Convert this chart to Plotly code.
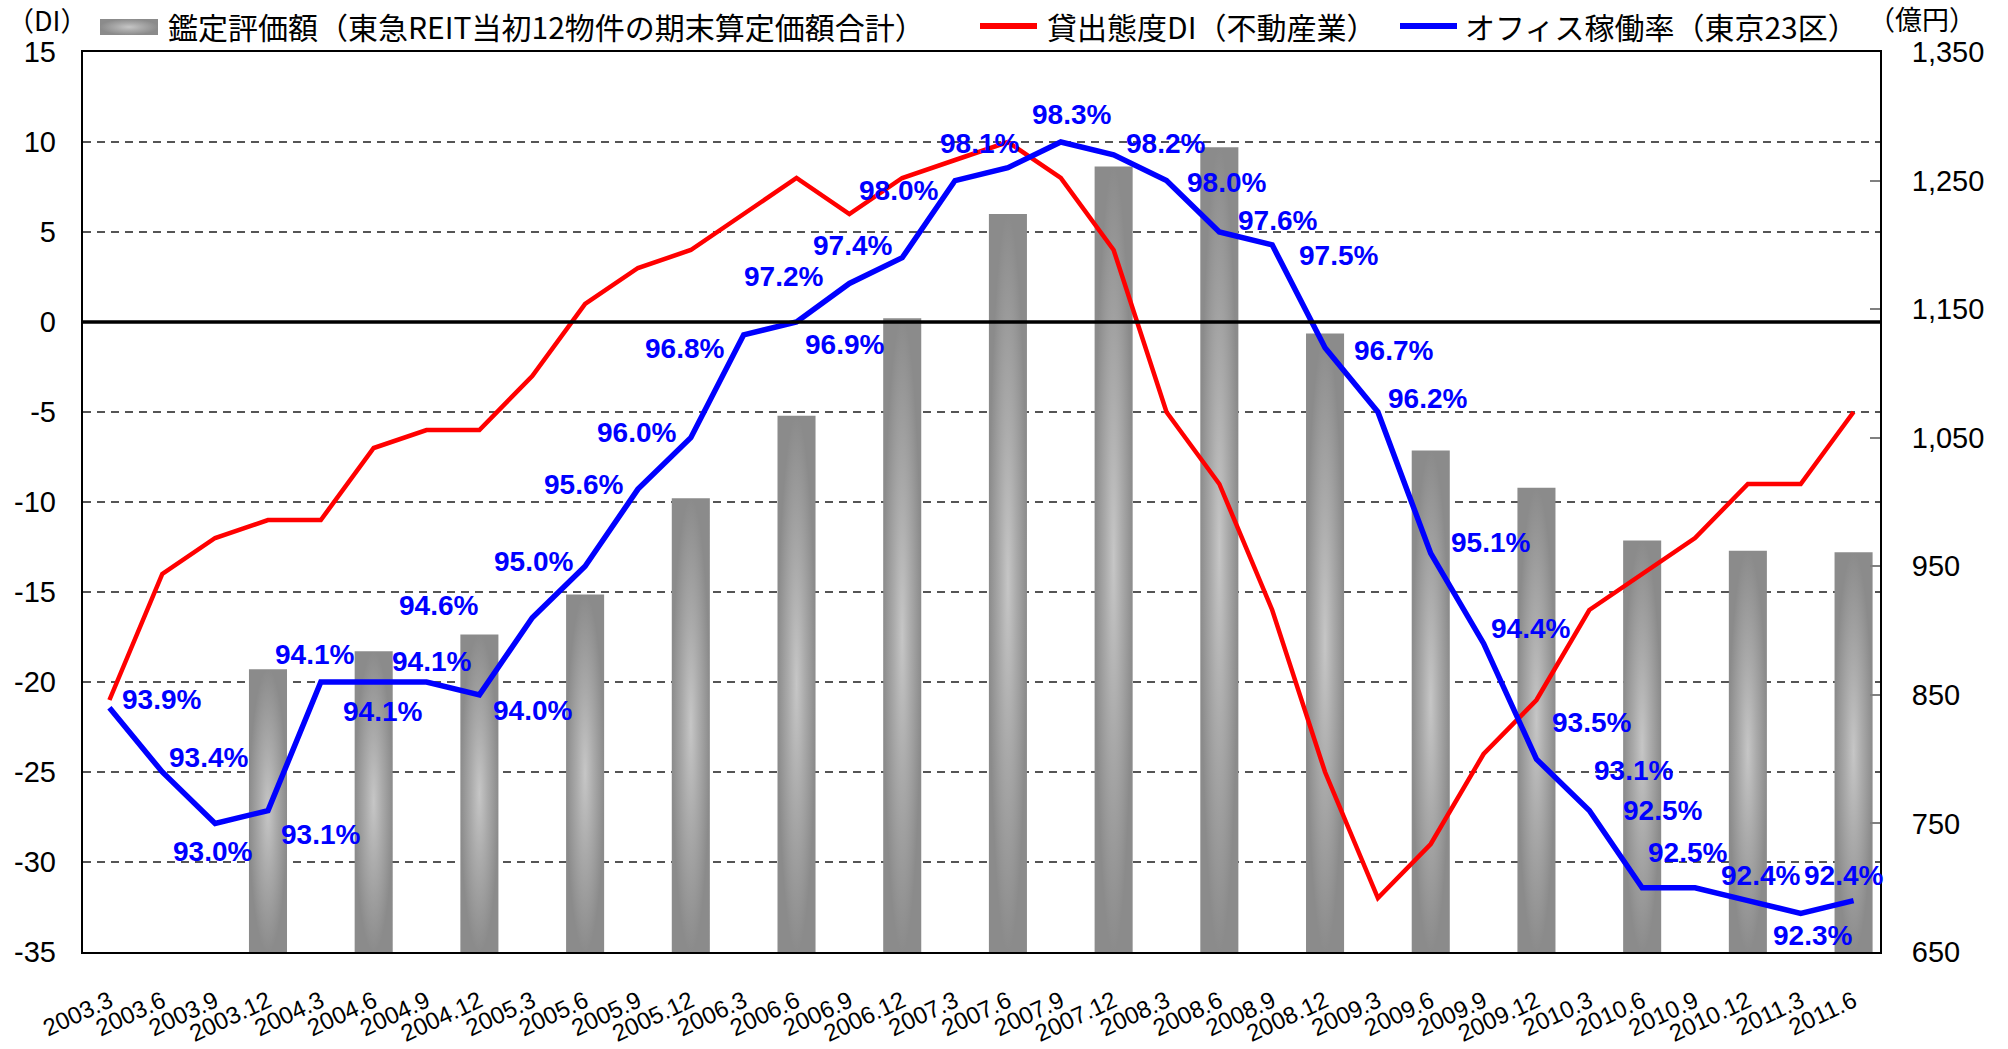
import base64
import plotly.graph_objects as go

# ---- data ---------------------------------------------------------------
quarters = [
    "2003.3", "2003.6", "2003.9", "2003.12", "2004.3", "2004.6", "2004.9", "2004.12",
    "2005.3", "2005.6", "2005.9", "2005.12", "2006.3", "2006.6", "2006.9", "2006.12",
    "2007.3", "2007.6", "2007.9", "2007.12", "2008.3", "2008.6", "2008.9", "2008.12",
    "2009.3", "2009.6", "2009.9", "2009.12", "2010.3", "2010.6", "2010.9", "2010.12",
    "2011.3", "2011.6",
]

# 貸出態度DI（不動産業）
lending_di = [
    -21, -14, -12, -11, -11, -7, -6, -6,
    -3, 1, 3, 4, 6, 8, 6, 8,
    9, 10, 8, 4, -5, -9, -16, -25,
    -32, -29, -24, -21, -16, -14, -12, -9,
    -9, -5,
]

# オフィス稼働率（東京23区）, %
occupancy = [
    93.9, 93.4, 93.0, 93.1, 94.1, 94.1, 94.1, 94.0,
    94.6, 95.0, 95.6, 96.0, 96.8, 96.9, 97.2, 97.4,
    98.0, 98.1, 98.3, 98.2, 98.0, 97.6, 97.5, 96.7,
    96.2, 95.1, 94.4, 93.5, 93.1, 92.5, 92.5, 92.4,
    92.3, 92.4,
]

# 鑑定評価額（億円）, semi-annual
appraisal_periods = [
    "2003.12", "2004.6", "2004.12", "2005.6", "2005.12", "2006.6", "2006.12", "2007.6",
    "2007.12", "2008.6", "2008.12", "2009.6", "2009.12", "2010.6", "2010.12", "2011.6",
]
appraisal_value = [
    870, 884, 897, 928, 1003, 1067, 1143, 1224,
    1261, 1276, 1131, 1040, 1011, 970, 962, 961,
]

di_ticks = list(range(-35, 16, 5))
value_ticks = list(range(650, 1351, 100))

# ---- layout constants -----------------------------------------------------
W, H = 2008, 1049
ML, MR, MT, MB = 83, 128, 52, 97
PW, PH = W - ML - MR, H - MT - MB
BAR_HALF = 0.36

JP_FONT = "Noto Sans CJK JP, Noto Sans CJK SC, sans-serif"
NUM_FONT = "Liberation Sans, Arial, sans-serif"
RED = "#ff0000"
BLUE = "#0000ff"

# pixel offsets (right, down) of each occupancy label from its point
label_offsets = [
    (52, -8), (46, -15), (-3, 28), (53, 24), (-6, -28), (9, 29), (5, -21), (53, 16),
    (-94, -12), (-52, -5), (-54, -5), (-54, -5), (-59, 14), (48, 22), (-66, -7), (-50, -12),
    (-57, 10), (-28, -24), (11, -28), (52, -11), (60, 2), (58, -12), (66, 11), (68, 3),
    (50, -14), (60, -11), (47, -15), (55, -37), (44, -40), (20, -77), (-8, -35), (13, -25),
    (12, 22), (-10, -25),
]


def paper_x(px):
    return (px - ML) / PW


def paper_y(py):
    return (H - MB - py) / PH


BAR_SCALE = [[0.0, "#c6c6c6"], [0.45, "#aaaaaa"], [1.0, "#8b8b8b"]]

fig = go.Figure()

# appraisal bars (cylinder-like shading) on the right-hand axis
for period, value in zip(appraisal_periods, appraisal_value):
    i = quarters.index(period)
    fig.add_trace(go.Scatter(
        x=[i - BAR_HALF, i + BAR_HALF, i + BAR_HALF, i - BAR_HALF, i - BAR_HALF],
        y=[value_ticks[0], value_ticks[0], value, value, value_ticks[0]],
        mode="lines", line=dict(width=0), fill="toself",
        fillgradient=dict(type="radial", colorscale=BAR_SCALE),
        hoverinfo="skip", showlegend=False, xaxis="x", yaxis="y",
    ))

x_idx = list(range(len(quarters)))

fig.add_trace(go.Scatter(
    x=x_idx, y=lending_di, mode="lines", yaxis="y2",
    line=dict(color=RED, width=4.5), showlegend=False,
    name="貸出態度DI（不動産業）",
))
fig.add_trace(go.Scatter(
    x=x_idx, y=occupancy, mode="lines", yaxis="y3",
    line=dict(color=BLUE, width=5.5), showlegend=False,
    name="オフィス稼働率（東京23区）",
))

annotations = []
for i, (v, (dx, dy)) in enumerate(zip(occupancy, label_offsets)):
    annotations.append(dict(
        x=i, y=v, xref="x", yref="y3", text=f"{v:.1f}%", showarrow=False,
        xshift=dx, yshift=-dy, xanchor="center", yanchor="middle",
        font=dict(family=NUM_FONT, size=28, color=BLUE, weight="bold"),
    ))

# legend row and unit captions
legend_y = 26
for txt, x0 in [("鑑定評価額（東急REIT当初12物件の期末算定価額合計）", 166),
                ("貸出態度DI（不動産業）", 1045),
                ("オフィス稼働率（東京23区）", 1463)]:
    annotations.append(dict(
        x=paper_x(x0), y=paper_y(legend_y), xref="paper", yref="paper", text=txt,
        showarrow=False, xanchor="left", yanchor="middle",
        font=dict(family=JP_FONT, size=30, color="#000000"),
    ))
annotations.append(dict(
    x=paper_x(47), y=paper_y(19), xref="paper", yref="paper", text="（DI）",
    showarrow=False, xanchor="center", yanchor="middle",
    font=dict(family=JP_FONT, size=27, color="#000000"),
))
annotations.append(dict(
    x=paper_x(1922), y=paper_y(18), xref="paper", yref="paper", text="（億円）",
    showarrow=False, xanchor="center", yanchor="middle",
    font=dict(family=JP_FONT, size=27, color="#000000"),
))

shapes = [
    # zero line of the DI axis, drawn over the bars
    dict(type="line", xref="paper", x0=0, x1=1, yref="y2", y0=0, y1=0,
         line=dict(color="#000000", width=3.5), layer="above"),
    dict(type="line", xref="paper", yref="paper", x0=paper_x(980), x1=paper_x(1037),
         y0=paper_y(legend_y), y1=paper_y(legend_y), line=dict(color=RED, width=6)),
    dict(type="line", xref="paper", yref="paper", x0=paper_x(1400), x1=paper_x(1457),
         y0=paper_y(legend_y), y1=paper_y(legend_y), line=dict(color=BLUE, width=6)),
]

swatch_svg = (
    '<svg xmlns="http://www.w3.org/2000/svg" width="58" height="16">'
    '<defs><radialGradient id="g" cx="50%" cy="50%" r="50%">'
    '<stop offset="0" stop-color="#c6c6c6"/><stop offset="0.45" stop-color="#aaaaaa"/>'
    '<stop offset="1" stop-color="#8b8b8b"/></radialGradient></defs>'
    '<rect width="58" height="16" fill="url(#g)"/></svg>'
)
swatch_src = "data:image/svg+xml;base64," + base64.b64encode(swatch_svg.encode()).decode()

fig.update_layout(
    width=W, height=H,
    margin=dict(l=ML, r=MR, t=MT, b=MB, pad=0, autoexpand=False),
    paper_bgcolor="#ffffff", plot_bgcolor="#ffffff",
    showlegend=False,
    annotations=annotations,
    shapes=shapes,
    images=[dict(source=swatch_src, xref="paper", yref="paper",
                 x=paper_x(100), y=paper_y(19), sizex=58 / PW, sizey=16 / PH,
                 xanchor="left", yanchor="top", sizing="stretch", layer="above")],
    xaxis=dict(
        range=[-0.5, len(quarters) - 0.5], tickmode="array", tickvals=x_idx,
        ticktext=quarters, tickangle=-25, ticks="", showgrid=False, zeroline=False,
        showline=True, linecolor="#000000", linewidth=2, mirror=True,
        ticklabelstandoff=24, layer="below traces", automargin=False,
        tickfont=dict(family=NUM_FONT, size=24, color="#000000"),
    ),
    yaxis=dict(
        range=[value_ticks[0], value_ticks[-1]], side="right",
        tickmode="array", tickvals=value_ticks, tickformat=",d",
        ticks="inside", ticklen=10, tickcolor="#808080", tickwidth=1.5,
        showgrid=False, zeroline=False, automargin=False,
        showline=True, linecolor="#000000", linewidth=2, mirror=True,
        ticklabelstandoff=24,
        tickfont=dict(family=NUM_FONT, size=29, color="#000000"),
    ),
    yaxis2=dict(
        range=[di_ticks[0], di_ticks[-1]], overlaying="y", side="left",
        tickmode="array", tickvals=di_ticks, ticktext=[str(t) for t in di_ticks],
        ticks="", showgrid=True, gridcolor="#555555", gridwidth=1.5, griddash="8px,6px",
        zeroline=False, showline=False, ticklabelstandoff=26, automargin=False,
        tickfont=dict(family=NUM_FONT, size=29, color="#000000"),
    ),
    yaxis3=dict(
        range=[92, 99], overlaying="y", visible=False, showgrid=False, zeroline=False,
    ),
)

fig.write_html("out.html")
